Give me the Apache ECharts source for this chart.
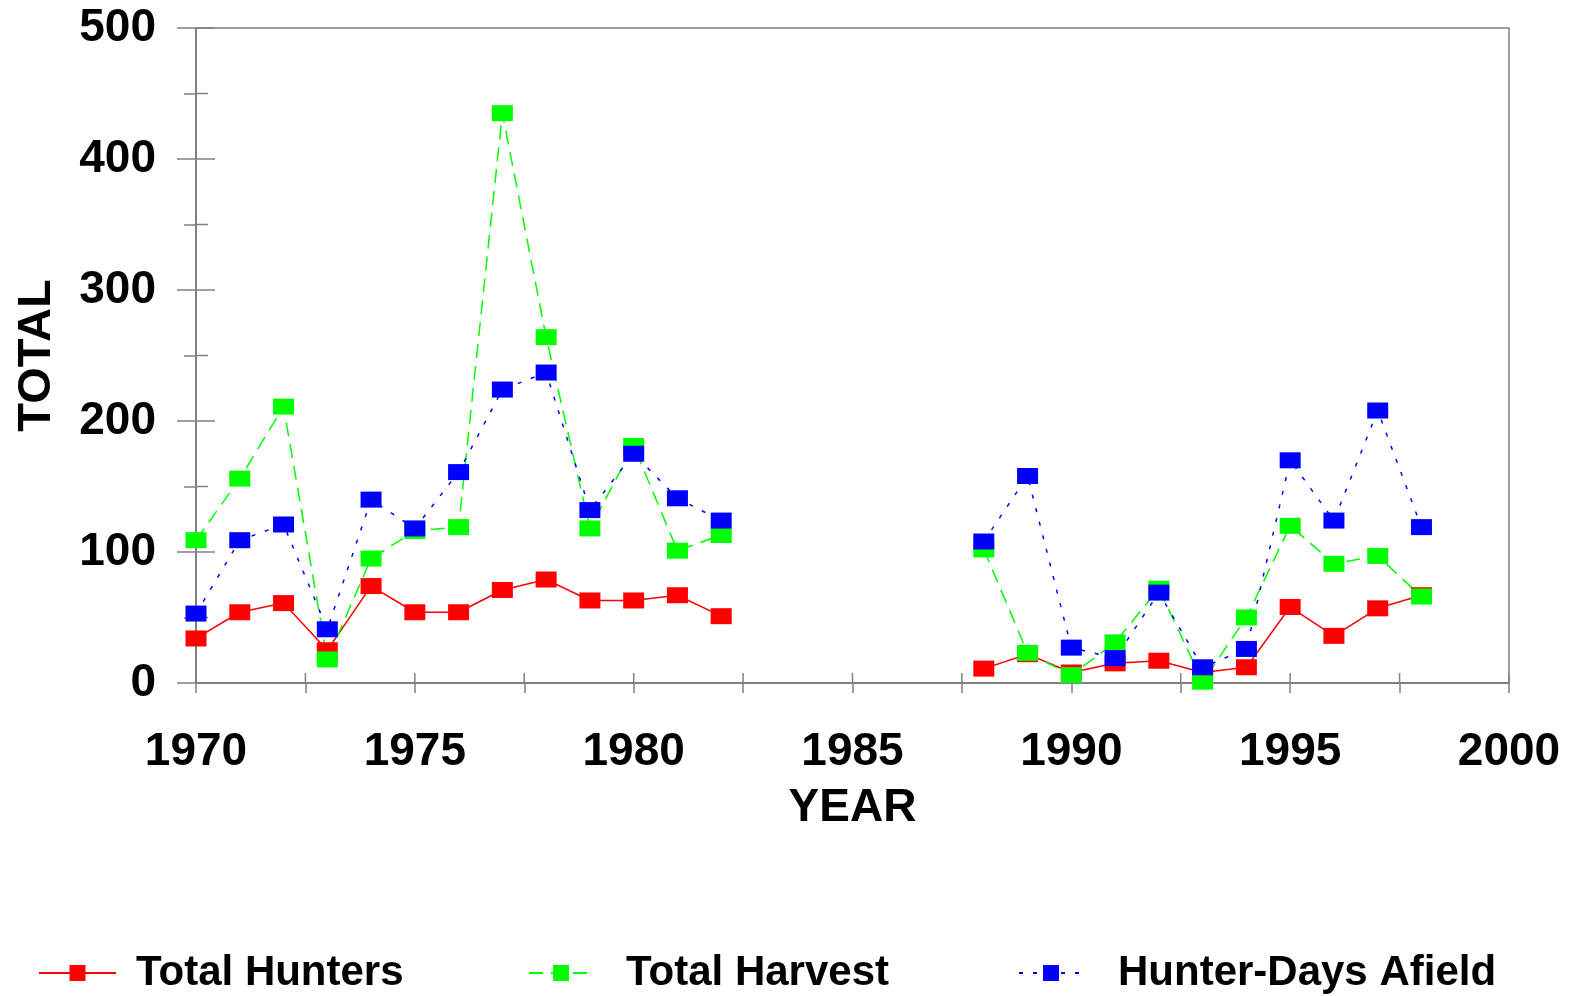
<!DOCTYPE html>
<html>
<head>
<meta charset="utf-8">
<script src="https://cdn.jsdelivr.net/npm/echarts@6/dist/echarts.min.js"></script>
<style>
  html, body { margin: 0; padding: 0; background: #fff; }
  #main { width: 1571px; height: 996px; }
</style>
</head>
<body>
<div id="main"></div>
<script>
// survey years, 1983-1987 missing
var years = [1970, 1971, 1972, 1973, 1974, 1975, 1976, 1977, 1978, 1979, 1980, 1981, 1982,
    1983, 1984, 1985, 1986, 1987,
    1988, 1989, 1990, 1991, 1992, 1993, 1994, 1995, 1996, 1997, 1998];
var totalHunters = [34, 54, 61, 25, 74, 54, 54, 71, 79, 63, 63, 67, 51,
    null, null, null, null, null,
    11, 22, 8, 15, 17, 8, 12, 58, 36, 57, 67];
var totalHarvest = [109, 156, 211, 18, 95, 116, 119, 435, 264, 118, 181, 101, 113,
    null, null, null, null, null,
    102, 23, 6, 31, 72, 1, 50, 120, 91, 97, 66];
var hunterDays = [53, 109, 121, 41, 140, 118, 161, 224, 237, 132, 175, 141, 124,
    null, null, null, null, null,
    108, 158, 27, 19, 69, 12, 26, 170, 124, 208, 119];
var xTicks = [1970, 2000, 5];
var yTicks = [0, 500, 100];
// tick marks (major + minor) that cross the axis lines
var xTickMarks = [1970, 1972.5, 1975, 1977.5, 1980, 1982.5, 1985, 1987.5, 1990, 1992.5, 1995, 1997.5, 2000];
var yTickMarks = [0, 50, 100, 150, 200, 250, 300, 350, 400, 450, 500];

var FONT = 'Liberation Sans, Arial, sans-serif';
var GREY = '#808080';

function pairs(vals) {
    return years.map(function (y, i) {
        return [y, vals[i] === null ? '-' : vals[i]];
    });
}

function boldText(size, extra) {
    var s = { fontFamily: FONT, fontWeight: 'bold', color: '#000', fontSize: size };
    for (var k in extra) s[k] = extra[k];
    return s;
}

function mkSeries(name, vals, color, dash) {
    return {
        name: name,
        type: 'line',
        data: pairs(vals),
        connectNulls: false,
        symbol: 'rect',
        symbolSize: [21, 16],
        itemStyle: { color: color },
        lineStyle: { color: color, width: 1.5, type: dash },
        z: 4
    };
}

// inner half of each tick: [x, y, kind] with kind 0 = y-axis tick, 1 = x-axis tick
var innerTicks = yTickMarks.map(function (v) { return [xTicks[0], v, 0]; })
    .concat(xTickMarks.map(function (v) { return [v, yTicks[0], 1]; }));

function renderTick(params, api) {
    var kind = api.value(2);
    var p = api.coord([api.value(0), api.value(1)]);
    var shape;
    if (kind === 0) {
        var len = api.value(1) % 100 === 0 ? 19 : 12;
        shape = { x1: p[0], y1: p[1], x2: p[0] + len, y2: p[1] };
    } else {
        shape = { x1: p[0], y1: p[1], x2: p[0], y2: p[1] - 10 };
    }
    return {
        type: 'line',
        shape: shape,
        style: { stroke: GREY, lineWidth: 1.5 }
    };
}

var chart = echarts.init(document.getElementById('main'));

chart.setOption({
    animation: false,
    grid: {
        left: 196, right: 62, top: 28, bottom: 313,
        show: true, borderColor: GREY, borderWidth: 1.5
    },
    xAxis: {
        type: 'value',
        min: xTicks[0], max: xTicks[1], interval: xTicks[2],
        name: 'YEAR',
        nameLocation: 'middle',
        nameGap: 102,
        nameTextStyle: boldText(46),
        axisLine: { show: true, lineStyle: { color: GREY, width: 2 } },
        axisTick: { show: true, length: 10, lineStyle: { color: GREY, width: 1.5 } },
        minorTick: { show: true, splitNumber: 2, length: 10, lineStyle: { color: GREY, width: 1.5 } },
        splitLine: { show: false },
        axisLabel: boldText(46, { margin: 46, formatter: function (v) { return String(v); } })
    },
    yAxis: {
        type: 'value',
        min: yTicks[0], max: yTicks[1], interval: yTicks[2],
        name: 'TOTAL',
        nameLocation: 'middle',
        nameGap: 135,
        nameTextStyle: boldText(47),
        axisLine: { show: true, lineStyle: { color: GREY, width: 2 } },
        axisTick: { show: true, length: 19, lineStyle: { color: GREY, width: 1.5 } },
        minorTick: { show: true, splitNumber: 2, length: 12, lineStyle: { color: GREY, width: 1.5 } },
        splitLine: { show: false },
        axisLabel: boldText(46, { margin: 40 })
    },
    legend: [{
        data: ['Total Hunters'],
        left: 38, top: 952, padding: 0,
        itemWidth: 77, itemHeight: 20,
        textStyle: boldText(42, { padding: [0, 0, 0, 15] })
    }, {
        data: ['Total Harvest'],
        left: 528, top: 952, padding: 0,
        itemWidth: 64, itemHeight: 20,
        textStyle: boldText(42, { padding: [0, 0, 0, 28] })
    }, {
        data: ['Hunter-Days Afield'],
        left: 1018, top: 952, padding: 0,
        itemWidth: 64, itemHeight: 20,
        textStyle: boldText(42, { padding: [0, 0, 0, 30] })
    }],
    series: [
        {
            name: 'inner ticks',
            type: 'custom',
            renderItem: renderTick,
            data: innerTicks,
            encode: { x: 0, y: 1 },
            clip: false,
            silent: true,
            z: 1
        },
        mkSeries('Total Hunters', totalHunters, '#ff0000', 'solid'),
        mkSeries('Total Harvest', totalHarvest, '#00ff00', [14, 8]),
        mkSeries('Hunter-Days Afield', hunterDays, '#0000ff', [4, 10])
    ]
});
</script>
</body>
</html>
